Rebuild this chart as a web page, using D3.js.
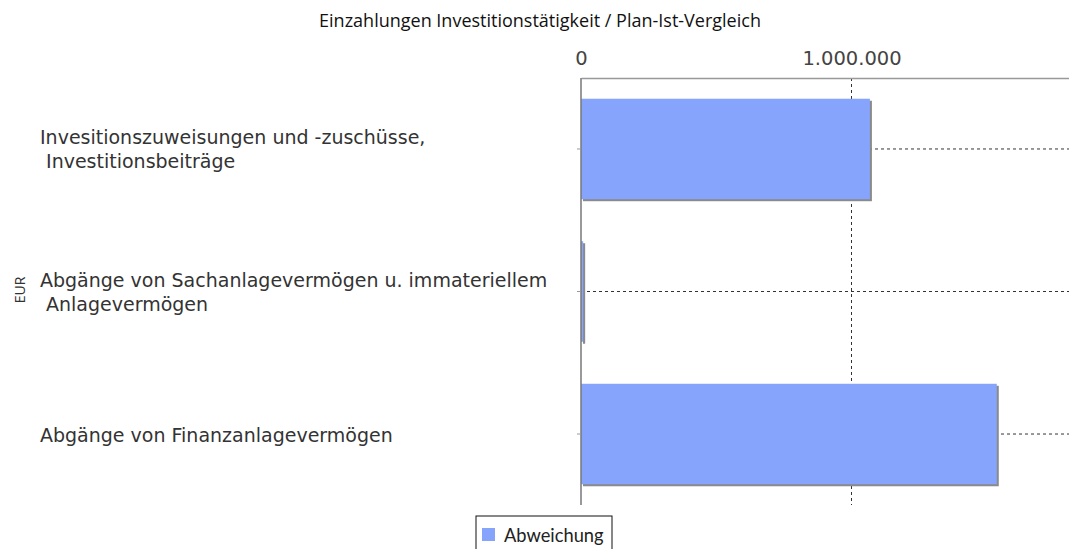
<!DOCTYPE html>
<html><head><meta charset="utf-8">
<script src="https://cdn.jsdelivr.net/npm/d3@7"></script>
<style>body{margin:0;background:#fff}</style>
</head><body>
<svg id="c" width="1069" height="549"></svg>
<script>
const categories = [
  ["Invesitionszuweisungen und -zuschüsse,", " Investitionsbeiträge"],
  ["Abgänge von Sachanlagevermögen u. immateriellem", " Anlagevermögen"],
  ["Abgänge von Finanzanlagevermögen"]
];
const values = [1068000, 8000, 1537000];
const tickValues = [0, 1000000];
const tickLabels = ["0", "1.000.000"];
const seriesName = "Abweichung";
const title = "Einzahlungen Investitionstätigkeit / Plan-Ist-Vergleich";
const yTitle = "EUR";

(function(){
const svg = d3.select("#c");
const pL = 581, pR = 1069, pT = 78, pB = 505;
const x = d3.scaleLinear().domain([0, 1804000]).range([pL, pR]);
const y = d3.scaleBand().domain(d3.range(categories.length)).range([pT, pB]).paddingInner(0.295).paddingOuter(0.1455);

svg.append("text").attr("x", 540).attr("y", 27).attr("text-anchor", "middle")
  .attr("font-family", "Open Sans").attr("font-size", 18).attr("fill", "#111").text(title);

const g = svg.append("g");
tickValues.slice(1).forEach(v => {
  g.append("line").attr("x1", x(v)).attr("x2", x(v)).attr("y1", pT).attr("y2", pB)
    .attr("stroke", "#333").attr("stroke-dasharray", "3,3");
});
categories.forEach((c, i) => {
  const cy = y(i) + y.bandwidth() / 2;
  g.append("line").attr("x1", pL).attr("x2", pR).attr("y1", cy).attr("y2", cy)
    .attr("stroke", "#333").attr("stroke-dasharray", "3,3");
});

const bars = svg.append("g");
values.forEach((v, i) => {
  bars.append("rect").attr("x", x(0) + 2).attr("y", y(i) + 2).attr("width", x(v) - x(0)).attr("height", y.bandwidth())
    .attr("fill", "#8a8a8a");
  bars.append("rect").attr("x", x(0)).attr("y", y(i)).attr("width", x(v) - x(0)).attr("height", y.bandwidth())
    .attr("fill", "#87a4fd");
});

const xAxis = d3.axisTop(x).tickValues(tickValues).tickFormat((d, i) => tickLabels[i]).tickSize(0).tickPadding(13);
const xa = svg.append("g").attr("transform", `translate(0,${pT})`).call(xAxis);
xa.select(".domain").attr("stroke", "#999").attr("stroke-width", 1.5);
xa.selectAll("text").attr("font-family", "DejaVu Sans").attr("font-size", 19.5).attr("fill", "#444");

const ya = svg.append("g").attr("transform", `translate(${pL},0)`)
  .call(d3.axisLeft(y).tickSize(4).tickFormat(""));
ya.select(".domain").attr("stroke", "#777").attr("stroke-width", 1.5).attr("d", `M0,${pT}V${pB}`);
ya.selectAll(".tick line").attr("stroke", "#999");

categories.forEach((lines, i) => {
  const cy = y(i) + y.bandwidth() / 2;
  const n = lines.length;
  const t = svg.append("text").attr("font-family", "DejaVu Sans").attr("font-size", 19).attr("fill", "#333")
    .attr("xml:space", "preserve").style("white-space", "pre");
  lines.forEach((s, j) => {
    t.append("tspan").attr("x", 40).attr("y", cy + (j - (n - 1) / 2) * 24 + 7.5).text(s);
  });
});

svg.append("text").attr("transform", "translate(25,290) rotate(-90)").attr("text-anchor", "middle")
  .attr("font-family", "Open Sans").attr("font-size", 14).attr("fill", "#333").text(yTitle);

const lg = svg.append("g");
lg.append("rect").attr("x", 476).attr("y", 516).attr("width", 136).attr("height", 40)
  .attr("fill", "#fff").attr("stroke", "#111").attr("stroke-width", 1);
lg.append("rect").attr("x", 482).attr("y", 528).attr("width", 13).attr("height", 13).attr("fill", "#87a4fd");
lg.append("text").attr("x", 504).attr("y", 542).attr("font-family", "Lato").attr("font-size", 18.3)
  .attr("fill", "#222").text(seriesName);
})();
</script>
</body></html>
